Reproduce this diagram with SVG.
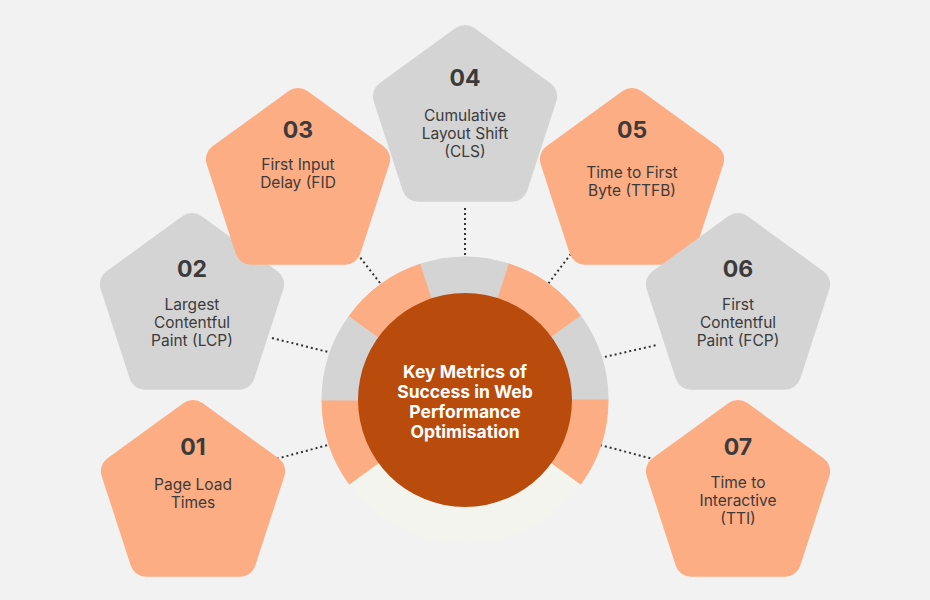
<svg xmlns="http://www.w3.org/2000/svg" xmlns:xlink="http://www.w3.org/1999/xlink" width="930" height="600" viewBox="0 0 930 600">
<style>
.or{fill:#fdad83;stroke:#fdad83}
.gr{fill:#d4d4d4;stroke:#d4d4d4}
.num{font-family:Inter,"Liberation Sans",sans-serif;font-weight:700;font-size:23px;fill:#3b3b3b;text-anchor:middle}
.lbl{font-family:Inter,"Liberation Sans",sans-serif;font-size:15.5px;fill:#3b3b3b;text-anchor:middle}
.ctr{font-family:Inter,"Liberation Sans",sans-serif;font-weight:700;font-size:17.5px;fill:#ffffff;text-anchor:middle}
.con{stroke:#333;stroke-width:2;stroke-dasharray:2 3;fill:none}
</style>
<defs>
<path id="pent" d="M0,-80 L76.1,-24.7 L47,64.7 L-47,64.7 L-76.1,-24.7 Z" stroke-width="32" stroke-linejoin="round"/>
</defs>
<rect width="930" height="600" fill="#f2f2f2"/>
<g id="connectors">
<line class="con" x1="345" y1="238" x2="380" y2="283"/>
<line class="con" x1="465" y1="208" x2="465" y2="256"/>
<line class="con" x1="583" y1="238" x2="548" y2="284"/>
<line class="con" x1="272" y1="338" x2="328" y2="352"/>
<line class="con" x1="600" y1="358" x2="657" y2="345"/>
<line class="con" x1="272" y1="460" x2="328" y2="445"/>
<line class="con" x1="600" y1="445" x2="657" y2="460"/>
</g>
<g id="hub">
<path d="M465 400 L580.7 484.1 A143 143 0 0 1 349.3 484.1 Z" fill="#f3f4ee"/>
<path class="or" stroke="none" d="M465 400 L349.3 484.1 A143 143 0 0 1 322 400 Z"/>
<path class="gr" stroke="none" d="M465 400 L322 400 A143 143 0 0 1 349.3 315.9 Z"/>
<path class="or" stroke="none" d="M465 400 L349.3 315.9 A143 143 0 0 1 420.8 264 Z"/>
<path class="gr" stroke="none" d="M465 400 L420.8 264 A143 143 0 0 1 509.2 264 Z"/>
<path class="or" stroke="none" d="M465 400 L509.2 264 A143 143 0 0 1 580.7 315.9 Z"/>
<path class="gr" stroke="none" d="M465 400 L580.7 315.9 A143 143 0 0 1 608 400 Z"/>
<path class="or" stroke="none" d="M465 400 L608 400 A143 143 0 0 1 580.7 484.1 Z"/>
<circle cx="465" cy="400" r="107" fill="#b94b0c"/>
<text class="ctr" x="465" y="378">Key Metrics of</text>
<text class="ctr" x="465" y="398">Success in Web</text>
<text class="ctr" x="465" y="418">Performance</text>
<text class="ctr" x="465" y="438">Optimisation</text>
</g>
<g id="n01"><use xlink:href="#pent" class="or" x="193" y="496"/><text class="num" x="193" y="455">01</text><text class="lbl" x="193" y="490">Page Load</text><text class="lbl" x="193" y="508">Times</text></g>
<g id="n02"><use xlink:href="#pent" class="gr" x="192" y="309"/><text class="num" x="192" y="277">02</text><text class="lbl" x="192" y="310">Largest</text><text class="lbl" x="192" y="328">Contentful</text><text class="lbl" x="192" y="346">Paint (LCP)</text></g>
<g id="n03"><use xlink:href="#pent" class="or" x="298" y="184"/><text class="num" x="298" y="138">03</text><text class="lbl" x="298" y="170">First Input</text><text class="lbl" x="298" y="188">Delay (FID</text></g>
<g id="n04"><use xlink:href="#pent" class="gr" x="465" y="121"/><text class="num" x="465" y="86">04</text><text class="lbl" x="465" y="121">Cumulative</text><text class="lbl" x="465" y="139">Layout Shift</text><text class="lbl" x="465" y="157">(CLS)</text></g>
<g id="n05"><use xlink:href="#pent" class="or" x="632" y="184"/><text class="num" x="632" y="138">05</text><text class="lbl" x="632" y="178">Time to First</text><text class="lbl" x="632" y="196">Byte (TTFB)</text></g>
<g id="n06"><use xlink:href="#pent" class="gr" x="738" y="309"/><text class="num" x="738" y="277">06</text><text class="lbl" x="738" y="310">First</text><text class="lbl" x="738" y="328">Contentful</text><text class="lbl" x="738" y="346">Paint (FCP)</text></g>
<g id="n07"><use xlink:href="#pent" class="or" x="738" y="496"/><text class="num" x="738" y="455">07</text><text class="lbl" x="738" y="488">Time to</text><text class="lbl" x="738" y="506">Interactive</text><text class="lbl" x="738" y="524">(TTI)</text></g>
</svg>
